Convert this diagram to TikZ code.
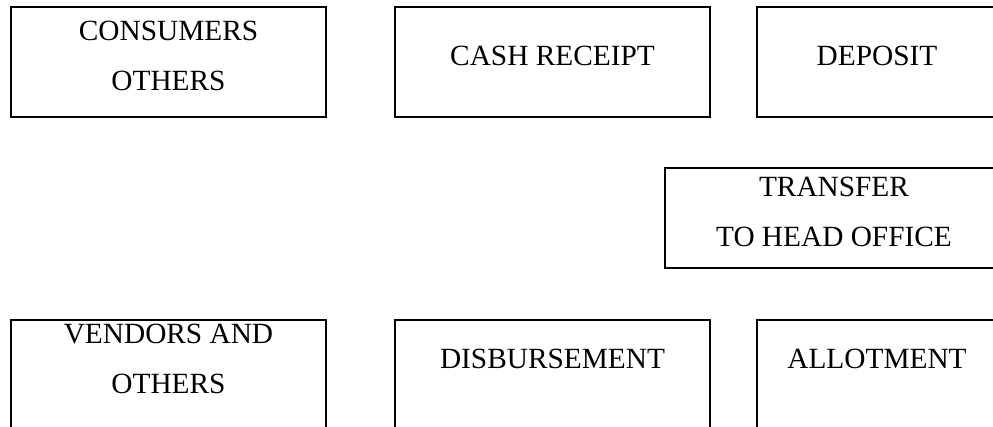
\documentclass[tikz,border=0pt]{standalone}
\usepackage{fontspec}
\setmainfont{Liberation Serif}
\usepackage{tikz}

\begin{document}
\begin{tikzpicture}
			[x=0.75pt, y=-0.75pt, align=center, block/.style ={rectangle, draw=black, line width=1.5pt, font=\fontsize{22pt}{37.5pt}\selectfont, minimum width=315pt*0.75, minimum height=110pt*0.75, inner sep=0pt, text depth=9pt}];
			\useasboundingbox (0,0) rectangle (993,427);
			\clip (0,0) rectangle (993,427);
			\node [block] (consumers) at (168.5,62) {CONSUMERS\\OTHERS};
			\node [block] (cashreceipt) at (552.5,62) {CASH RECEIPT};
			\node [block, minimum width=240pt*0.75] (deposit) at (877,62) {DEPOSIT};
			\node [block, minimum width=338pt*0.75, minimum height=100pt*0.75] (transfer) at (834,218) {TRANSFER\\TO HEAD OFFICE};
			\node [block, text depth=24pt] (vendors) at (168.5,375) {VENDORS AND\\OTHERS};
			\node [block, text depth=24pt] (disbursement) at (552.5,375) {DISBURSEMENT};
			\node [block, minimum width=240pt*0.75, text depth=24pt] (allotment) at (877,375) {ALLOTMENT};
		\end{tikzpicture}
\end{document}
